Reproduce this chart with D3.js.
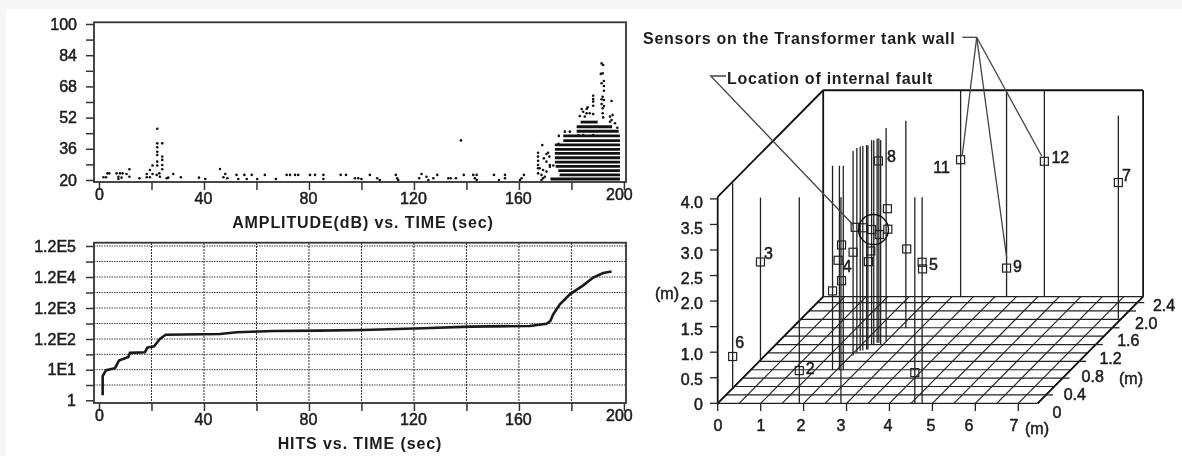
<!doctype html>
<html>
<head>
<meta charset="utf-8" />
<title>Acoustic emission sensors</title>
<script src="https://cdn.jsdelivr.net/npm/d3@7/dist/d3.min.js"></script>
<style>
	html, body { margin: 0; padding: 0; background: #f6f6f6; overflow: hidden; }
	svg { display: block; filter: blur(0.45px); }
	text { font-family: "Liberation Sans", Arial, sans-serif; font-size: 16px; fill: #1c1c1c; stroke: #1c1c1c; stroke-width: 0.5px; }
	.note { font-weight: bold; stroke-width: 0; letter-spacing: 0.75px; }
	.head { font-weight: bold; stroke-width: 0; letter-spacing: 0.9px; }
	.grid3d { stroke: #222; stroke-width: 1.2; fill: none; }
	.col { stroke: #222; stroke-width: 1.3; }
	.lead { stroke: #444; stroke-width: 1.3; fill: none; }
</style>
</head>
<body>
<svg id="chart" width="1182" height="456"></svg>
<script>
// amplitude chart
const timeTicks = [0, 20, 40, 60, 80, 100, 120, 140, 160, 180, 200];
const timeLabels = [0, 40, 80, 120, 160, 200];
const ampTicks = [100, 92, 84, 76, 68, 60, 52, 44, 36, 28, 20];
const ampLabels = [100, 84, 68, 52, 36, 20];

// scattered hits, [sec, dB]
const ampEarly = [[1.7,21.4],[2.7,21.4],[3.2,23.4],[3.9,23.4],[6.7,23.4],[8,23.4],[9,23.4],[7.4,21.7],[7.4,20.5],[8.6,21.2],[10.5,23.1],[11.6,21.7],[11.6,25.5],[15.4,20.9],[18.2,23.1],[18.2,21.4],[19.4,21.4],[19.4,25.1],[20.4,27.4],[20.4,23.1],[22,22.6],[23,23.4],[22.2,27.4],[22.2,29.4],[22.2,32.8],[22.2,34.5],[22.2,36.8],[22.2,38.8],[22.2,46.3],[24.1,38.8],[24.1,32],[24.1,30.3],[24.1,27.7],[24.1,25.5],[23.2,21.7],[25.8,20.9],[26.4,21.2],[28.3,23.1],[31.2,21.4],[38.1,21.2],[40.5,20.5],[46.1,25.6],[48.1,23.1],[47.4,21.4],[48.9,20.9],[52.4,22.6],[53.1,20.5],[55.4,22.6],[56.3,20.5],[58.2,22.6],[60.3,20.5],[63.2,22.6],[67.4,20.5],[71.5,22.6],[72.8,22.6],[74.7,22.6],[75.9,22.6],[80.4,22.6],[82.3,22.6]];
const ampMiddle = [[85.5,22.6],[85.5,20.5],[92.1,22.6],[94.1,22.6],[97.5,20.9],[98.8,20.9],[100,20.5],[103.2,22.6],[106,20.9],[107,20],[113.1,22.6],[113.6,20.9],[114,20],[122,20.9],[122.9,23.1],[124.8,21.7],[125.5,20],[127.4,20.9],[128.9,22.6],[133.1,20.9],[134,20.9],[136,20.9],[139,22.6],[137.9,40.3],[142.6,22.6],[143.2,20.9],[143.9,22.6],[143.9,20],[150.5,22.6],[152.4,20],[154.7,22.6],[154.7,20.9],[160.4,20],[161,20.9],[161.9,22.6]];
const ampRise = [[167.3,34],[167.3,32],[167.3,29.9],[167.3,27.7],[167.3,26],[167.3,23.4],[168.9,37.9],[169.2,25.1],[170.5,33.3],[171.1,34],[169.5,31.1],[171.6,32],[170.5,29.4],[171.8,27.7],[168.6,22.6],[169.9,21.7],[168.6,20],[170.5,24.3],[173.1,27.4],[171.8,26.8],[167.9,26],[169.2,20.9]];
const ampPeak = [[191.5,79.8],[192.1,79],[191.9,74.7],[191.2,74.4],[192.4,70.8],[191.5,69.6],[192.4,68.2],[192.4,65.8],[188.3,63.2],[188.3,61.5],[188.3,60.2],[188.3,58.1],[191.9,62.7],[191.5,61.4],[192.4,61],[191.5,59],[195.3,60.5],[183.9,56.4],[185.8,56.4],[186.2,57.3],[184.5,55],[185.8,54.2],[187,54.2],[188.3,53.8],[183.2,52.8],[185.1,52.5],[191.9,56.8],[192.4,57.9],[191.9,54.2],[192.1,52.1],[194.7,52.5],[195.7,53.3],[195.3,50.8],[194.7,49.9],[196.6,49.1],[197.5,46.8],[177.5,44.8],[179.4,44.8],[175.2,42.6],[175.1,38.5],[188.3,43.1],[184.5,43.1],[182.6,43.1]];

// solid block of hits, one row per dB level
const rowDb = [20.5, 22.6, 24.8, 27, 29.2, 31.4, 33.7, 35.7, 38, 40.2, 42.6, 45, 47.3, 49.7];
const rowStart = [172, 175.5, 175, 174, 173.7, 173.7, 173.7, 173.7, 173.7, 176.9, 176.9, 182, 182, 183.5];
const rowEnd = [198.5, 198.5, 198.5, 198.5, 198.5, 198.5, 198.5, 198.5, 198.5, 198.5, 198.5, 198, 195.5, 190];

// hits chart
const hitTicks = [1, 3.16, 10, 34.6, 120, 379, 1200, 3790, 12000, 37900, 120000];
const hitLabels = ['1.2E5', '1.2E4', '1.2E3', '1.2E2', '1E1', '1'];
const hitLabelValues = [120000, 12000, 1200, 120, 10, 1];
const hitTime = [1.4, 1.4, 2.7, 6.1, 7.6, 11.2, 11.8, 17.5, 18.4, 21, 23.2, 25.4, 46.1, 52.5, 66.4, 84.2, 100.7, 123.5, 141.3, 164.2, 170.5, 172, 173, 175.6, 179.4, 184.5, 188.3, 192.1, 195.3];
const hitCount = [1.45, 6.2, 9.7, 11.3, 21, 28, 39, 41, 60, 66, 120, 165, 173, 199, 218, 223, 234, 268, 301, 316, 371, 457, 740, 1580, 3300, 6450, 11500, 16200, 18000];

// tank view, metres
const tankX = [0, 1, 2, 3, 4, 5, 6, 7];
const tankFloorX = [0, 0.5, 1, 1.5, 2, 2.5, 3, 3.5, 4, 4.5, 5, 5.5, 6, 6.5, 7, 7.45];
const tankFloorDepth = [0, 0.2, 0.4, 0.6, 0.8, 1, 1.2, 1.4, 1.6, 1.8, 2, 2.2, 2.4, 2.54];
const tankDepthTicks = [0.2, 0.6, 1, 1.4, 1.8, 2.2, 2.4];
const tankDepthLabels = [0, 0.4, 0.8, 1.2, 1.6, 2, 2.4];
const tankZ = [0, 0.5, 1, 1.5, 2, 2.5, 3, 3.5, 4];

// located events and sensor stems, [x, depth, height]
const stems = [[0,0.36,4.01],[0,1.03,3.18],[1.9,0,4.03],[1.91,0.79,4],[2.07,0.79,4],[2.16,0.79,4],[2.87,0,4.03],[2.05,1.14,4],[2.07,1.21,4],[2.11,1.25,4],[2.16,1.26,4],[2.23,1.28,4],[2.26,1.28,4],[2.23,1.4,4],[2.28,1.4,4],[2.32,1.44,4],[2.36,1.44,4],[2.44,1.4,4],[2.5,1.47,4.18],[2.65,1.79,4.06],[4.59,0,4.03],[4.76,0,4.03],[3.2,2.54,4.03],[4.27,2.54,4.03],[5.15,2.54,4.03],[7.41,1.985,4]];
const marks = [[1.91,0.79,1.55],[2.12,0.79,1.75],[2.12,0.79,2.45],[2.05,1.14,2.02],[2.27,1.28,1.72],[2.21,1.4,1.83],[2.03,1.21,2.45],[2.17,1.26,2.4],[2.23,1.4,2.25],[2.37,1.44,2.12],[2.53,1.47,2.6],[2.54,1.47,2.2],[2.67,1.79,1.55],[4.59,0,0.6],[4.76,0,2.76]];
const sensorNames = ['6', '3', '2', '4', '5', '8', '11', '9', '12', '7'];
const sensorSpots = [[0,0.36,0.62],[0,1.03,1.92],[1.9,0,0.64],[2.04,0.79,2.15],[4.77,0,2.63],[2.35,1.44,3.56],[3.2,2.54,2.68],[4.27,2.54,0.56],[5.15,2.54,2.65],[7.41,1.985,2.69]];
const faultSpot = [2.32, 1.4, 2.25];

const svg = d3.select('#chart');
svg.append('rect').attr('x', 6).attr('y', 9).attr('width', 1176).attr('height', 447).attr('fill', '#fff');

function styleAxis(g) {
	g.select('.domain').remove();
	g.selectAll('.tick line').attr('stroke', '#333').attr('stroke-width', 1.5);
	g.selectAll('.tick text').style('font-size', '16px').attr('font-family', null);
}

function timeAxis(y, x, labelDy) {
	const g = svg.append('g').attr('transform', `translate(0,${y})`)
		.call(d3.axisBottom(x).tickValues(timeTicks).tickSize(8)
			.tickFormat(d => timeLabels.includes(d) ? d : ''));
	styleAxis(g);
	g.selectAll('.tick text')
		.attr('y', d => (d === 0 || d === 200) ? labelDy - 4 : labelDy)
		.attr('dx', d => d === 200 ? -5 : (d === 0 ? 0 : -1));
	return g;
}

function frame(x, y0, y1) {
	svg.append('rect')
		.attr('x', x.range()[0]).attr('y', y1)
		.attr('width', x.range()[1] - x.range()[0]).attr('height', y0 - y1)
		.attr('fill', 'none').attr('stroke', '#333').attr('stroke-width', 1.8);
}

function title(str, cx, cy) {
	svg.append('text').attr('class', 'head').attr('x', cx).attr('y', cy).attr('dy', '0.36em')
		.attr('text-anchor', 'middle').text(str);
}

function drawAmplitude() {
	const x = d3.scaleLinear().domain([-1.9, 200.8]).range([94, 626]);
	const y = d3.scaleLinear().domain([18.97, 100.87]).range([182, 22.3]);
	const hits = ampEarly.concat(ampMiddle, ampRise, ampPeak);
	svg.append('g').selectAll('circle').data(hits).join('circle')
		.attr('cx', d => x(d[0])).attr('cy', d => y(d[1])).attr('r', 1.3).attr('fill', '#111');
	svg.append('g').selectAll('line').data(rowDb).join('line')
		.attr('x1', (d, i) => x(rowStart[i])).attr('x2', (d, i) => x(rowEnd[i]))
		.attr('y1', d => y(d)).attr('y2', d => y(d))
		.attr('stroke', '#111').attr('stroke-width', 2.8);
	frame(x, 182, 22.3);
	const ga = svg.append('g').attr('transform', 'translate(94,0)')
		.call(d3.axisLeft(y).tickValues(ampTicks).tickSize(8)
			.tickFormat(d => ampLabels.includes(d) ? d : ''));
	styleAxis(ga);
	ga.selectAll('.tick text').attr('x', -17);
	timeAxis(182, x, 11);
	title('AMPLITUDE(dB) vs. TIME (sec)', 363, 222);
}

function drawHits() {
	const x = d3.scaleLinear().domain([-1.9, 200.8]).range([94, 626]);
	const y = d3.scaleLog().domain([1, 10, 120, 1200, 12000, 120000]).range([400.3, 369.7, 339, 308, 277, 246]);
	svg.append('g').selectAll('line').data(hitTicks.slice(1, -1).concat(120000)).join('line')
		.attr('x1', 94).attr('x2', 626).attr('y1', d => y(d)).attr('y2', d => y(d))
		.attr('stroke', '#444').attr('stroke-width', 1).attr('stroke-dasharray', '1.5 1');
	svg.append('g').selectAll('line').data(timeTicks.slice(1, -1)).join('line')
		.attr('x1', d => x(d)).attr('x2', d => x(d)).attr('y1', 243).attr('y2', 403)
		.attr('stroke', '#333').attr('stroke-width', 1).attr('stroke-dasharray', '2 1');
	const line = d3.line().x(d => x(d)).y((d, i) => y(hitCount[i]));
	svg.append('path').attr('d', line(hitTime)).attr('fill', 'none')
		.attr('stroke', '#1a1a1a').attr('stroke-width', 2.6);
	frame(x, 403, 242.7);
	const ga = svg.append('g').attr('transform', 'translate(94,0)')
		.call(d3.axisLeft(y).tickValues(hitTicks).tickSize(8)
			.tickFormat(d => {
				const i = hitLabelValues.indexOf(d);
				return i < 0 ? '' : hitLabels[i];
			}));
	styleAxis(ga);
	ga.selectAll('.tick text').attr('x', -18);
	timeAxis(403, x, 11);
	title('HITS vs. TIME (sec)', 360, 443);
}

function drawTank() {
	const px = d3.scaleLinear().domain([0, 7]).range([717.7, 1018.3]);
	const shiftX = d3.scaleLinear().domain([0, 2.54]).range([0, 105.5]);
	const shiftY = d3.scaleLinear().domain([0, 2.54]).range([403.3, 296.7]);
	const lift = d3.scaleLinear().domain([0, 4]).range([0, 204.4]);
	const pos = p => [px(p[0]) + shiftX(p[1]), shiftY(p[1]) - lift(p[2])];
	const seg = (a, b) => d3.line()([pos(a), pos(b)]);
	const maxX = 7.45, maxD = 2.54, maxZ = 4.04;

	const grid = svg.append('g');
	tankFloorX.forEach(v => grid.append('path').attr('class', 'grid3d').attr('d', seg([v, 0, 0], [v, maxD, 0])));
	tankFloorDepth.forEach(v => grid.append('path').attr('class', 'grid3d').attr('d', seg([0, v, 0], [maxX, v, 0])));

	// box edges of the tank
	const box = [
		[[0, 0, 0], [0, 0, maxZ]], [[0, 0, maxZ], [0, maxD, maxZ]], [[0, maxD, maxZ], [maxX, maxD, maxZ]],
		[[maxX, maxD, maxZ], [maxX, maxD, 0]], [[0, maxD, maxZ], [0, maxD, 0]], [[0, 0, 0], [0, maxD, 0]], [[maxX, 0, 0], [maxX, maxD, 0]]
	];
	svg.append('g').selectAll('path').data(box).join('path')
		.attr('d', d => seg(d[0], d[1])).attr('fill', 'none').attr('stroke', '#111').attr('stroke-width', 1.8);

	svg.append('g').selectAll('path').data(stems).join('path').attr('class', 'col')
		.attr('d', d => seg([d[0], d[1], 0], d));

	const square = 8;
	svg.append('g').selectAll('rect').data(marks.concat(sensorSpots)).join('rect')
		.attr('x', d => pos(d)[0] - square / 2).attr('y', d => pos(d)[1] - square / 2)
		.attr('width', square).attr('height', square)
		.attr('fill', 'none').attr('stroke', '#222').attr('stroke-width', 1.2);

	// sensor numbers sit around the squares, not on them
	const nudge = { '6': [7, -14], '3': [8, -9], '2': [11, -2], '4': [9, 6], '5': [11, -5], '8': [13, -5], '11': [-19, 7], '9': [11, -2], '12': [16, -4], '7': [8, -7] };
	svg.append('g').selectAll('text').data(sensorSpots).join('text')
		.attr('x', (d, i) => pos(d)[0] + nudge[sensorNames[i]][0])
		.attr('y', (d, i) => pos(d)[1] + nudge[sensorNames[i]][1])
		.attr('dy', '0.36em').attr('text-anchor', 'middle')
		.text((d, i) => sensorNames[i]);

	const fault = pos(faultSpot);
	svg.append('circle').attr('cx', fault[0] - 2).attr('cy', fault[1]).attr('r', 15)
		.attr('fill', 'none').attr('stroke', '#111').attr('stroke-width', 1.4);

	// x ticks and labels
	const labelX = d3.scaleLinear().domain(tankX).range([718, 761, 801, 841, 888, 931, 969, 1014]);
	svg.append('g').selectAll('line').data(tankX).join('line')
		.attr('x1', d => px(d)).attr('x2', d => px(d)).attr('y1', 403.3).attr('y2', 411)
		.attr('stroke', '#222').attr('stroke-width', 1.3);
	svg.append('g').selectAll('text').data(tankX).join('text')
		.attr('x', d => labelX(d)).attr('y', 425).attr('dy', '0.36em')
		.attr('text-anchor', 'middle').text(d => d);
	svg.append('text').attr('x', 1037).attr('y', 428).attr('dy', '0.36em').attr('text-anchor', 'middle').text('(m)');

	// height ticks, the printed numbers drift a little below them
	const labelZ = d3.scaleLinear().domain([0, 4]).range([404.5, 202.5]);
	svg.append('g').selectAll('line').data(tankZ).join('line')
		.attr('x1', 710).attr('x2', 717.7)
		.attr('y1', d => 403.3 - lift(d)).attr('y2', d => 403.3 - lift(d))
		.attr('stroke', '#222').attr('stroke-width', 1.3);
	svg.append('g').selectAll('text').data(tankZ).join('text')
		.attr('x', 703).attr('y', d => labelZ(d)).attr('dy', '0.36em')
		.attr('text-anchor', 'end').text(d => d === 0 ? '0' : d3.format('.1f')(d));
	svg.append('text').attr('x', 667).attr('y', 293).attr('dy', '0.36em').attr('text-anchor', 'middle').text('(m)');

	// depth ticks
	svg.append('g').selectAll('path').data(tankDepthTicks).join('path')
		.attr('d', d => d3.line()([pos([maxX, d, 0]), [pos([maxX, d, 0])[0] + 7, shiftY(d)]]))
		.attr('stroke', '#222').attr('stroke-width', 1.3);
	const depthLabelX = d3.scaleLinear().domain([0, 2.4]).range([1057, 1164]);
	const depthLabelY = d3.scaleLinear().domain([0, 2.4]).range([412, 305]);
	svg.append('g').selectAll('text').data(tankDepthLabels).join('text')
		.attr('x', d => depthLabelX(d)).attr('y', d => depthLabelY(d)).attr('dy', '0.36em')
		.attr('text-anchor', 'middle').text(d => d === 0 ? '0' : d3.format('.1f')(d));
	svg.append('text').attr('x', 1131).attr('y', 378).attr('dy', '0.36em').attr('text-anchor', 'middle').text('(m)');

	// call-outs
	svg.append('text').attr('class', 'note').attr('x', 643).attr('y', 38).attr('dy', '0.36em').text('Sensors on the Transformer tank wall');
	svg.append('text').attr('class', 'note').attr('x', 727).attr('y', 78).attr('dy', '0.36em').text('Location of internal fault');
	const hub = [976.7, 37.3];
	const leaders = [
		[[962.3, 37.3], hub],
		[hub, [962.3, 155]],
		[hub, [1041.7, 156]],
		[hub, [1006.7, 258]],
		[[726, 76], [710.7, 76], [853.3, 225]]
	];
	svg.append('g').selectAll('path').data(leaders).join('path')
		.attr('class', 'lead').attr('d', d => d3.line()(d));
}

drawAmplitude();
drawHits();
drawTank();
</script>
</body>
</html>
